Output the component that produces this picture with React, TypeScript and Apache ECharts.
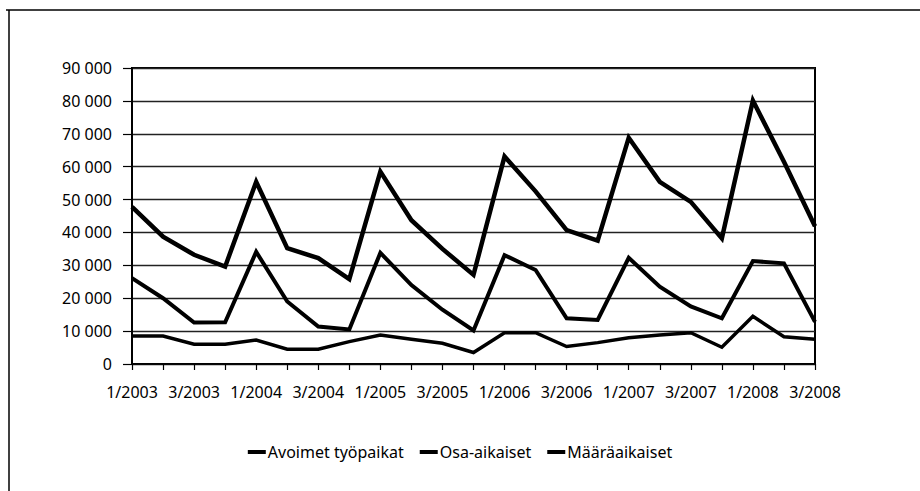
import React, { useEffect, useRef } from "react";
import * as echarts from "echarts";

const years = [2003, 2004, 2005, 2006, 2007, 2008];
const categories: string[] = [];
years.forEach((y) => {
  const qs = y === 2008 ? [1, 2, 3] : [1, 2, 3, 4];
  qs.forEach((q) => categories.push(`${q}/${y}`));
});

const seriesNames = ["Avoimet työpaikat", "Osa-aikaiset", "Määräaikaiset"];

const avoimet = [47800, 38700, 33200, 29600, 55400, 35200, 32200, 25800, 58500, 43700, 35000, 27100, 63100, 52500, 40700, 37500, 68800, 55400, 49300, 38200, 80100, 61500, 41900];
const osa = [26100, 20000, 12600, 12700, 34100, 19000, 11400, 10500, 33800, 24000, 16500, 10200, 33100, 28600, 13900, 13400, 32300, 23500, 17500, 13900, 31300, 30600, 12800];
const maara = [8500, 8500, 6000, 6000, 7300, 4500, 4500, 6800, 8800, 7500, 6300, 3500, 9500, 9500, 5300, 6500, 8000, 8800, 9500, 5100, 14500, 8300, 7500];

const FONT = "'Noto Sans', 'DejaVu Sans', sans-serif";

export default function App() {
  const ref = useRef<HTMLDivElement>(null);
  useEffect(() => {
    if (!ref.current) return;
    const chart = echarts.init(ref.current, undefined, { renderer: "svg" });
    const fmt = (v: number) => {
      if (v === 0) return "0";
      const s = String(v);
      return s.slice(0, s.length - 3) + " " + s.slice(s.length - 3);
    };
    const lineSeries = (name: string, data: number[], w: number) => ({
      name,
      type: "line",
      data,
      symbol: "none",
      lineStyle: { color: "#000", width: w, join: "miter" },
      itemStyle: { color: "#000" },
    });
    chart.setOption({
      animation: false,
      backgroundColor: "#fff",
      textStyle: { fontFamily: FONT },
      grid: {
        left: 132,
        right: 105,
        top: 68,
        bottom: 127,
        show: true,
        borderColor: "#000",
        borderWidth: 2,
      },
      xAxis: {
        type: "category",
        data: categories,
        boundaryGap: false,
        axisLine: { show: true, lineStyle: { color: "#000", width: 1.5 } },
        axisTick: { show: true, interval: 0, length: 6, lineStyle: { color: "#000", width: 1.2 } },
        axisLabel: {
          interval: 1,
          margin: 20,
          color: "#000",
          fontSize: 16,
          fontFamily: FONT,
        },
        splitLine: { show: false },
      },
      yAxis: {
        type: "value",
        min: 0,
        max: 90000,
        interval: 10000,
        axisLine: { show: true, lineStyle: { color: "#000", width: 2 } },
        axisTick: { show: true, length: 9, lineStyle: { color: "#000", width: 1.2 } },
        axisLabel: {
          margin: 20,
          color: "#000",
          fontSize: 16,
          fontFamily: FONT,
          formatter: fmt,
        },
        splitLine: { show: true, lineStyle: { color: "#222", width: 1.3 } },
      },
      legend: {
        data: seriesNames,
        bottom: 26,
        left: "center",
        icon: "rect",
        itemWidth: 18,
        itemHeight: 4,
        itemGap: 16,
        itemStyle: { color: "#000" },
        textStyle: { color: "#000", fontSize: 16, fontFamily: FONT, padding: [0, 0, 0, -3] },
      },
      graphic: [
        { type: "line", shape: { x1: 6, y1: 10, x2: 920, y2: 10 }, style: { stroke: "#000", lineWidth: 1.5 } },
        { type: "line", shape: { x1: 9, y1: 10, x2: 9, y2: 491 }, style: { stroke: "#000", lineWidth: 1.5 } },
      ],
      series: [
        lineSeries(seriesNames[0], avoimet, 4.5),
        lineSeries(seriesNames[1], osa, 4),
        lineSeries(seriesNames[2], maara, 3.5),
      ],
    });
    return () => chart.dispose();
  }, []);
  return (
    <div
      ref={ref}
      style={{ position: "fixed", left: 0, top: 0, width: 920, height: 491, background: "#fff" }}
    />
  );
}
